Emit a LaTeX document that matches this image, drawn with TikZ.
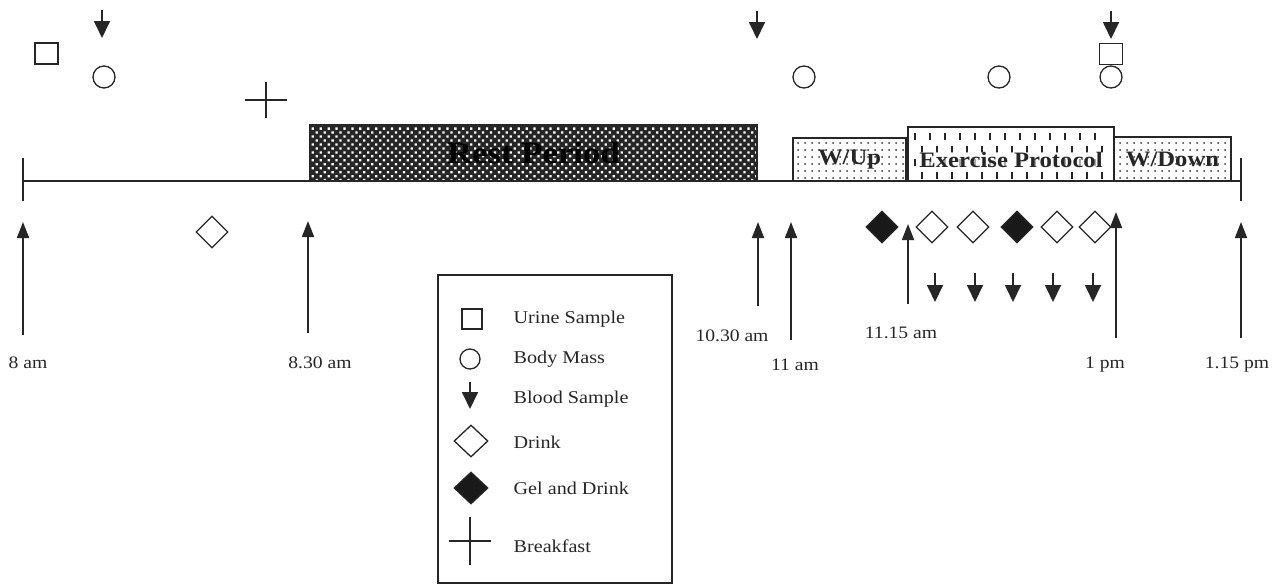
\documentclass[tikz,border=0pt]{standalone}
\usepackage{fontspec}
\setmainfont{Liberation Serif}[FakeStretch=1.12]
\usetikzlibrary{arrows.meta,shapes.geometric,patterns.meta}

\begin{document}
\begin{tikzpicture}[x=1pt, y=-1pt, line width=1.3pt, color=black!85,
    tlabel/.style  = {font=\fontsize{17.5}{20}\selectfont, inner sep=0pt},
    keytext/.style = {font=\fontsize{18}{21}\selectfont, anchor=west, inner sep=0pt},
    urine/.style   = {draw, minimum width=23pt, minimum height=21pt, inner sep=0pt},
    mass/.style    = {draw, circle, minimum size=22pt, inner sep=0pt},
    drink/.style   = {draw, diamond, minimum width=32pt, minimum height=32pt, inner sep=0pt},
    gel/.style     = {drink, fill=black!90},
    meal/.style    = {minimum width=41pt, minimum height=34pt, inner sep=0pt},
    blood/.style   = {-{Triangle[width=16pt,length=17pt]}, line width=1.8pt},
    uparrow/.style = {-{Triangle[width=12pt,length=16pt]}, line width=1.8pt},
    phase/.style   = {draw, line width=1.6pt, inner sep=0pt,
                      font=\fontsize{22}{24}\selectfont\bfseries},
    restbox/.style = {phase, preaction={fill=black!85}, pattern color=white,
                      pattern={Dots[distance=5.6pt, angle=45, radius=1.6pt]},
                      font=\fontsize{31}{34}\selectfont\bfseries},
    warmbox/.style = {phase, preaction={fill=white}, pattern color=black!80,
                      pattern={Dots[distance=7pt, radius=1pt]}},
    exbox/.style   = {phase, fill=white},
  ]
    \useasboundingbox (0,0) rectangle (1277,584);

    % time line
    \coordinate (start) at (23,181);
    \coordinate (end)   at (1241,181);
    \node[restbox, minimum width=447pt, minimum height=56pt] (rest) at (533.5,153)
        {\textcolor{black}{Rest Period}};
    \node[warmbox, minimum width=113pt, minimum height=43pt] (wup)  at (849.5,159.5) {W/Up};
    \node[exbox,   minimum width=206pt, minimum height=54pt] (ex)   at (1011,154) {};
    \foreach \yy/\off in {133/0, 146/7, 159/0, 172/7}
      \foreach \xx in {0,15,...,190}
        \draw[line width=1.3pt] (915+\xx+\off,\yy) -- ++(0,7);
    \node[font=\fontsize{22}{24}\selectfont\bfseries, inner sep=0pt, fill=white, fill opacity=0.6,
          text opacity=1] (extext) at (1011,160) {Exercise Protocol};
    \node[warmbox, minimum width=117pt, minimum height=44pt] (wdown) at (1172.5,159) {W/Down};
    \draw (start) -- (end);
    \draw (start) ++(0,-23) -- ++(0,43);
    \draw (end)   ++(0,-23) -- ++(0,43);

    % times
    \coordinate (a8)   at (23,335);
    \coordinate (a830) at (308,333);
    \coordinate (a1030) at (758,306);
    \coordinate (a11)  at (791,340);
    \coordinate (a1115) at (908,304);
    \coordinate (a1)   at (1116,338);
    \coordinate (a115) at (1241,338);
    \draw[uparrow] (a8)    -- ++(0,-113);
    \draw[uparrow] (a830)  -- ++(0,-112);
    \draw[uparrow] (a1030) -- ++(0,-84);
    \draw[uparrow] (a11)   -- ++(0,-118);
    \draw[uparrow] (a1115) -- ++(0,-80);
    \draw[uparrow] (a1)    -- ++(0,-126);
    \draw[uparrow] (a115)  -- ++(0,-116);
    \node[tlabel] (l8)    at (28,363)   {8 am};
    \node[tlabel] (l830)  at (320,363)  {8.30 am};
    \node[tlabel] (l1030) at (732,336)  {10.30 am};
    \node[tlabel] (l11)   at (795,365)  {11 am};
    \node[tlabel] (l1115) at (901,333)  {11.15 am};
    \node[tlabel] (l1)    at (1105,365) {1 pm};
    \node[tlabel] (l115)  at (1237,365) {1.15 pm};

    % events above the line
    \coordinate (b1) at (102,10);
    \coordinate (b2) at (757,11);
    \coordinate (b3) at (1111,11);
    \draw[blood] (b1) -- ++(0,28);
    \draw[blood] (b2) -- ++(0,28);
    \draw[blood] (b3) -- ++(0,28);
    \node[urine] (u1) at (46.5,53.5) {};
    \node[urine] (u2) at (1111,54) {};
    \node[mass]  (m1) at (104,77) {};
    \node[mass]  (m2) at (804,77) {};
    \node[mass]  (m3) at (999,77) {};
    \node[mass]  (m4) at (1111,77) {};
    \node[meal]  (bf) at (266,100) {};
    \draw (bf.west) -- (bf.east) (bf.north) -- (bf.south);

    % drinks and samples below the line
    \node[drink] (d0) at (212,232) {};
    \node[gel]   (g1) at (882,227) {};
    \node[drink] (d1) at (932,227) {};
    \node[drink] (d2) at (973,227) {};
    \node[gel]   (g2) at (1017,227) {};
    \node[drink] (d3) at (1057,227) {};
    \node[drink] (d4) at (1095,227) {};
    \foreach \xx [count=\i] in {935,975,1013,1053,1093}
      \coordinate (s\i) at (\xx,273);
    \foreach \i in {1,...,5}
      \draw[blood] (s\i) -- ++(0,29);

    % key
    \node[draw, minimum width=234pt, minimum height=308pt, inner sep=0pt] (key) at (555,429) {};
    \node[urine, minimum width=20pt, minimum height=20pt] (ku) at (472,319) {};
    \node[mass, minimum size=20pt] (km) at (470,359) {};
    \coordinate (kb) at (470,382);
    \draw[blood] (kb) -- ++(0,27);
    \node[drink, minimum width=34pt] (kd) at (471,441) {};
    \node[gel, minimum width=34pt]   (kg) at (471,488) {};
    \node[meal, minimum height=46pt] (kf) at (470,541) {};
    \draw (kf.west) -- (kf.east) (kf.north) -- (kf.south);
    \node[keytext] (tu) at (513,319) {Urine Sample};
    \node[keytext] (tm) at (513,359) {Body Mass};
    \node[keytext] (tb) at (513,399) {Blood Sample};
    \node[keytext] (td) at (513,442) {Drink};
    \node[keytext] (tg) at (513,488) {Gel and Drink};
    \node[keytext] (tf) at (513,546) {Breakfast};
\end{tikzpicture}
\end{document}
